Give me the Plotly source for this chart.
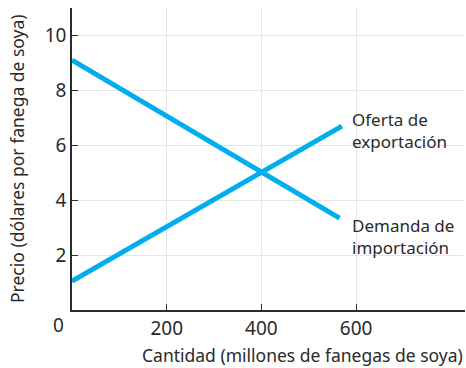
import plotly.graph_objects as go

# Data
supply_q = [0, 570]
supply_p = [1.05, 6.7]
demand_q = [0, 565]
demand_p = [9.1, 3.35]
x_ticks = [200, 400, 600]
y_ticks = [2, 4, 6, 8, 10]
supply_label = "Oferta de<br>exportación"
demand_label = "Demanda de<br>importación"
x_title = "Cantidad (millones de fanegas de soya)"
y_title = "Precio (dólares por fanega de soya)"

LINE = "rgb(0,174,239)"
TXT = "#2a2a2a"
FONT = "Noto Sans"

fig = go.Figure()
fig.add_trace(go.Scatter(x=supply_q, y=supply_p, mode="lines",
                         line=dict(color=LINE, width=5), hoverinfo="skip"))
fig.add_trace(go.Scatter(x=demand_q, y=demand_p, mode="lines",
                         line=dict(color=LINE, width=5), hoverinfo="skip"))

fig.add_annotation(x=587, y=6.53, text=supply_label, showarrow=False,
                   xanchor="left", yanchor="middle", align="left",
                   font=dict(size=17, color=TXT, family=FONT))
fig.add_annotation(x=587, y=2.67, text=demand_label, showarrow=False,
                   xanchor="left", yanchor="middle", align="left",
                   font=dict(size=17, color=TXT, family=FONT))
fig.add_annotation(x=0, y=0, xref="x", yref="y", text="0", showarrow=False,
                   xanchor="center", yanchor="middle", xshift=-14, yshift=-15,
                   font=dict(size=19, color=TXT, family=FONT))
fig.add_annotation(x=1, y=0, xref="paper", yref="paper", yshift=-45,
                   text=x_title, showarrow=False,
                   xanchor="right", yanchor="middle",
                   font=dict(size=17.5, color=TXT, family=FONT))
fig.add_annotation(x=0, y=0.5, xref="paper", yref="paper", xshift=-55,
                   text=y_title, showarrow=False, textangle=-90,
                   xanchor="center", yanchor="middle",
                   font=dict(size=17.5, color=TXT, family=FONT))

fig.update_layout(
    width=466, height=368,
    margin=dict(l=72, r=1, t=8, b=58),
    paper_bgcolor="white", plot_bgcolor="white",
    showlegend=False,
    font=dict(family=FONT, color=TXT, size=17),
    xaxis=dict(range=[0, 830], tickvals=x_ticks, ticks="inside", ticklen=6,
               tickcolor=TXT, showline=True, linecolor=TXT, linewidth=1.5,
               showgrid=True, gridcolor="#e6e6e6", gridwidth=1, zeroline=False,
               tickfont=dict(size=19, color=TXT), automargin=False),
    yaxis=dict(range=[0, 11], tickvals=y_ticks, ticks="inside", ticklen=6,
               tickcolor=TXT, showline=True, linecolor=TXT, linewidth=1.5,
               showgrid=True, gridcolor="#e6e6e6", gridwidth=1, zeroline=False,
               tickfont=dict(size=19, color=TXT), automargin=False),
)

fig.write_html("out.html",
               config={"displayModeBar": False},
               post_script="document.body.style.margin='0';"
                           "document.body.style.overflow='hidden';")
